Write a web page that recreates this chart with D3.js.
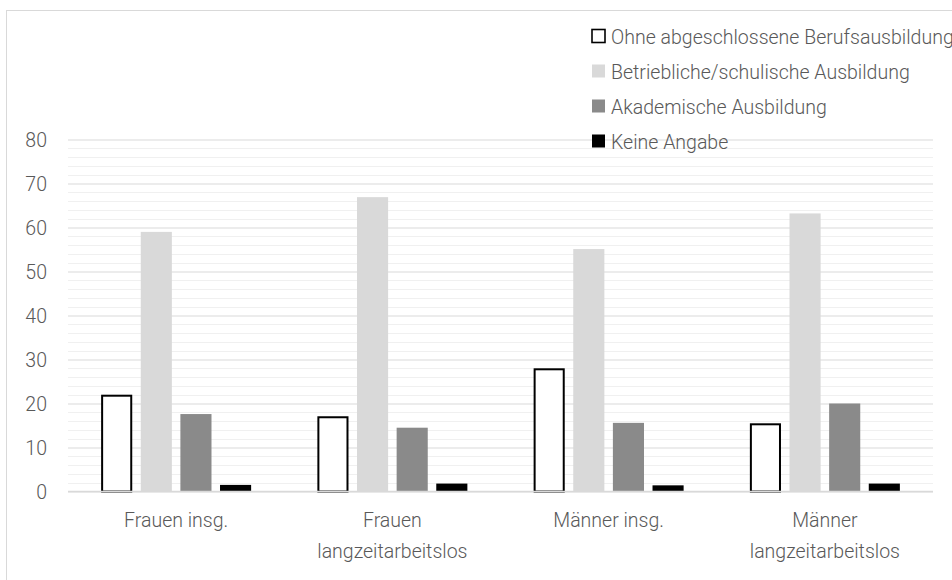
<!DOCTYPE html>
<html>
<head>
<meta charset="utf-8">
<script src="https://cdn.jsdelivr.net/npm/d3@7"></script>
<style>
  html, body { margin: 0; padding: 0; background: #fff; }
  svg { display: block; }
  text { font-family: Roboto, "Liberation Sans", sans-serif; font-weight: 300; fill: #595959; }
</style>
</head>
<body>
<svg id="chart" width="952" height="580"></svg>
<script>
// Gruppen (Kategorien) der x-Achse; "\n" trennt die Zeilen
const categories = ["Frauen insg.", "Frauen\nlangzeitarbeitslos", "Männer insg.", "Männer\nlangzeitarbeitslos"];

// Anteile in Prozent je Ausbildungsstand
const seriesNames = [
  "Ohne abgeschlossene Berufsausbildung",
  "Betriebliche/schulische Ausbildung",
  "Akademische Ausbildung",
  "Keine Angabe"
];
const ohneAbschluss   = [22.0, 17.1, 28.0, 15.5];
const betrieblich     = [59.0, 66.9, 55.1, 63.2];
const akademisch      = [17.6, 14.5, 15.6, 20.0];
const keineAngabe     = [1.5, 1.8, 1.4, 1.8];
const seriesValues = [ohneAbschluss, betrieblich, akademisch, keineAngabe];

const yTicks = [0, 10, 20, 30, 40, 50, 60, 70, 80];

const seriesFill   = ["#ffffff", "#d9d9d9", "#8a8a8a", "#000000"];
const seriesStroke = ["#000000", "none", "none", "none"];

const FONT_SIZE = 21;
const NARROW = 0.93; // horizontale Stauchung der Schrift

const svg = d3.select("#chart");

// Diagrammrahmen
svg.append("rect")
  .attr("x", 6.5).attr("y", 10.5)
  .attr("width", 980).attr("height", 600)
  .attr("fill", "#fff")
  .attr("stroke", "#d9d9d9")
  .attr("stroke-width", 1);

const plot = { left: 68, right: 933, top: 139.5, bottom: 491.5 };

const y = d3.scaleLinear().domain([0, 80]).range([plot.bottom, plot.top]);
const x0 = d3.scaleBand().domain(d3.range(categories.length)).range([plot.left, plot.right]).padding(0);
const cw = x0.bandwidth();
const x1 = d3.scaleBand().domain(d3.range(seriesNames.length))
  .range([cw / 2 - 75, cw / 2 + 75]).paddingInner(0.215).paddingOuter(0);

// Hilfslinien alle 2 Einheiten
const minor = d3.range(0, 81, 2).filter(v => v % 10 !== 0);
svg.append("g").selectAll("line").data(minor).join("line")
  .attr("x1", plot.left).attr("x2", plot.right)
  .attr("y1", d => Math.round(y(d)) + 0.5).attr("y2", d => Math.round(y(d)) + 0.5)
  .attr("stroke", "#f0f0f0").attr("stroke-width", 1);

// Hauptgitterlinien und y-Achse
const yAxis = d3.axisLeft(y).tickValues(yTicks).tickSize(-(plot.right - plot.left)).tickPadding(21);
const gy = svg.append("g").attr("transform", `translate(${plot.left},0)`).call(yAxis);
gy.select(".domain").remove();
gy.selectAll(".tick line").attr("stroke", "#d9d9d9").attr("stroke-width", 1.2);
gy.selectAll(".tick text")
  .attr("font-size", FONT_SIZE).attr("fill", "#595959")
  .style("font-family", "Roboto, sans-serif").style("font-weight", 300);

// Balken
const groups = svg.append("g").selectAll("g").data(categories).join("g")
  .attr("transform", (d, i) => `translate(${x0(i)},0)`);

groups.selectAll("rect")
  .data((d, i) => seriesValues.map((s, k) => ({ k, v: s[i] })))
  .join("rect")
  .attr("x", d => x1(d.k) + (d.k === 0 ? 1 : 0))
  .attr("width", d => x1.bandwidth() - (d.k === 0 ? 2 : 0))
  .attr("y", d => y(d.v) + (d.k === 0 ? 1 : 0))
  .attr("height", d => y(0) - y(d.v) - (d.k === 0 ? 1 : 0))
  .attr("fill", d => seriesFill[d.k])
  .attr("stroke", d => seriesStroke[d.k])
  .attr("stroke-width", 2);

// Nulllinie über den Balken
svg.append("line")
  .attr("x1", plot.left).attr("x2", plot.right)
  .attr("y1", y(0)).attr("y2", y(0))
  .attr("stroke", "#d9d9d9").attr("stroke-width", 1.5);

// x-Achsenbeschriftung
const xAxis = d3.axisBottom(x0).tickSize(0).tickFormat(() => "");
const gx = svg.append("g").attr("transform", `translate(0,${plot.bottom})`).call(xAxis);
gx.select(".domain").remove();
gx.selectAll(".tick").each(function (d, i) {
  const t = d3.select(this).append("text")
    .attr("text-anchor", "middle")
    .attr("font-size", FONT_SIZE)
    .attr("fill", "#595959");
  categories[i].split("\n").forEach((line, j) => {
    t.append("tspan").attr("x", 0).attr("y", 36 + j * 31).text(line);
  });
});

// Legende
const legend = svg.append("g").attr("transform", "translate(592,0)");
const rowY = [36, 71, 106, 141];
const items = legend.selectAll("g").data(seriesNames).join("g")
  .attr("transform", (d, i) => `translate(0,${rowY[i]})`);
items.append("rect")
  .attr("x", 0).attr("y", -6.5)
  .attr("width", 13).attr("height", 13)
  .attr("fill", (d, i) => seriesFill[i])
  .attr("stroke", (d, i) => seriesStroke[i])
  .attr("stroke-width", 1.6);
items.append("text")
  .attr("x", 19).attr("y", 7.5)
  .attr("font-size", FONT_SIZE)
  .text(d => d);

// Schmale Schrift: jeden Text um seinen Ankerpunkt horizontal stauchen
svg.selectAll("text").each(function () {
  const ax = +(this.getAttribute("x") || 0);
  d3.select(this).attr("transform", `translate(${ax},0) scale(${NARROW},1) translate(${-ax},0)`);
});
</script>
</body>
</html>
